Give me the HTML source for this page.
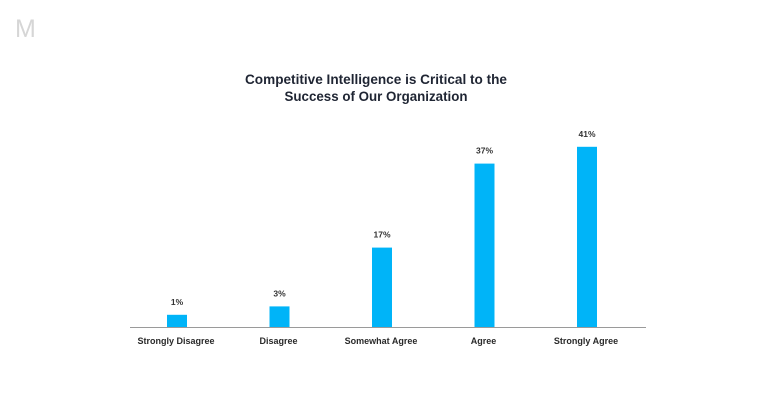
<!DOCTYPE html>
<html>
<head>
<meta charset="utf-8">
<style>
  html,body{margin:0;padding:0;background:#fff;}
  svg{display:block;font-family:"Liberation Sans",sans-serif;}
</style>
</head>
<body>
<svg id="chart" width="776" height="406" viewBox="0 0 776 406" xmlns="http://www.w3.org/2000/svg">
  <rect x="0" y="0" width="776" height="406" fill="#ffffff"/>
  <text x="15" y="37" font-size="25" fill="#d6d6d6" font-family="Liberation Sans, sans-serif">M</text>
  <text x="376" y="84" text-anchor="middle" font-size="14" font-weight="bold" fill="#1f2533" textLength="262" lengthAdjust="spacingAndGlyphs">Competitive Intelligence is Critical to the</text>
  <text x="376" y="101" text-anchor="middle" font-size="14" font-weight="bold" fill="#1f2533" textLength="183" lengthAdjust="spacingAndGlyphs">Success of Our Organization</text>
  <line x1="130" y1="327.5" x2="646" y2="327.5" stroke="#9a9a9a" stroke-width="1"/>
  <g id="bars"></g>
</svg>
<script>
const categories = ["Strongly Disagree", "Disagree", "Somewhat Agree", "Agree", "Strongly Agree"];
const values = [1, 3, 17, 37, 41];
const valueLabels = ["1%", "3%", "17%", "37%", "41%"];

const NS = "http://www.w3.org/2000/svg";
const baseY = 327;
const x0 = 177, step = 102.5, barW = 20;
function xScale(i){ return x0 + i * step; }
function yScale(v){ return baseY - (8 + v * 4.2); }

const g = document.getElementById('bars');
categories.forEach((c, i) => {
  const cx = xScale(i);
  const top = yScale(values[i]);
  const r = document.createElementNS(NS, 'rect');
  
  
  r.setAttribute('x', cx - barW / 2);
  r.setAttribute('y', top);
  r.setAttribute('width', barW);
  r.setAttribute('height', baseY - top);
  r.setAttribute('fill', '#00b4f8');
  g.appendChild(r);

  const t = document.createElementNS(NS, 'text');
  
  
  t.setAttribute('x', cx);
  t.setAttribute('y', top - 10);
  t.setAttribute('text-anchor', 'middle');
  t.setAttribute('font-size', '8.5');
  t.setAttribute('font-weight', 'bold');
  t.setAttribute('fill', '#333');
  t.textContent = valueLabels[i];
  g.appendChild(t);

  const l = document.createElementNS(NS, 'text');
  
  
  l.setAttribute('x', cx - 1);
  l.setAttribute('y', 344);
  l.setAttribute('text-anchor', 'middle');
  l.setAttribute('font-size', '9');
  l.setAttribute('font-weight', 'bold');
  l.setAttribute('fill', '#2a2a2a');
  l.textContent = c;
  g.appendChild(l);
});
</script>
</body>
</html>
